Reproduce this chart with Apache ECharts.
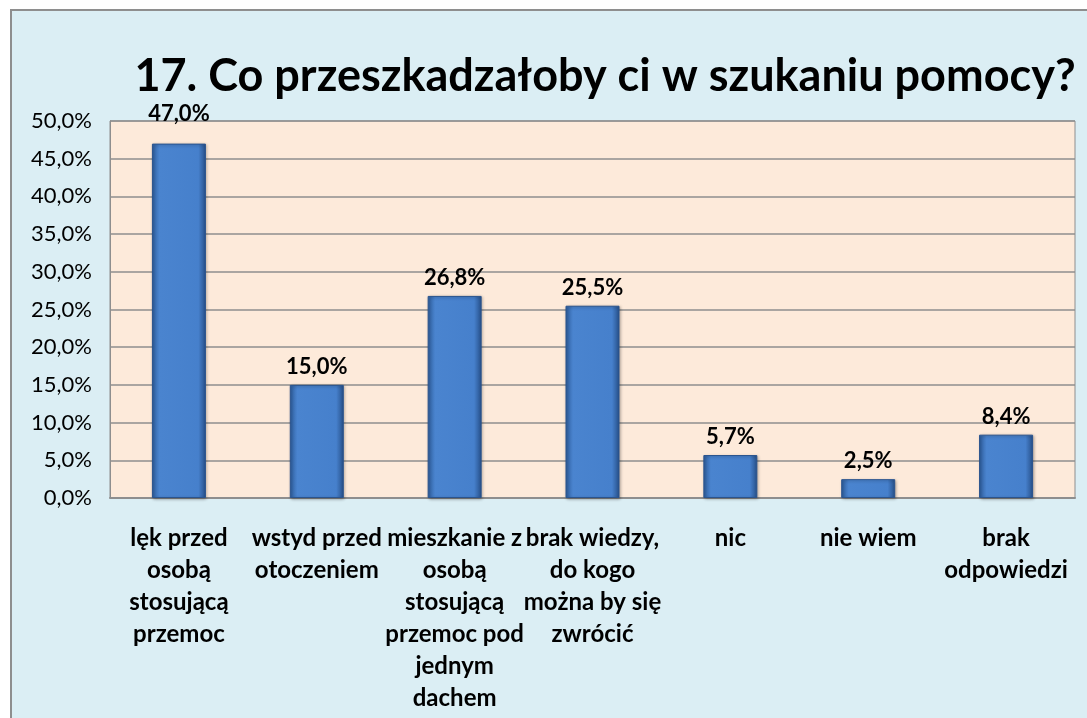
<!DOCTYPE html>
<html>
<head>
<meta charset="utf-8">
<script src="https://cdn.jsdelivr.net/npm/echarts@6/dist/echarts.min.js"></script>
<style>
  html, body { margin: 0; padding: 0; background: #fff; }
  #chart_id { width: 1087px; height: 718px; }
</style>
</head>
<body>
<div id="chart_id"></div>
<script>
// dane z wykresu
const categories = [
  'lęk przed\nosobą\nstosującą\nprzemoc',
  'wstyd przed\notoczeniem',
  'mieszkanie z\nosobą\nstosującą\nprzemoc pod\njednym\ndachem',
  'brak wiedzy,\ndo kogo\nmożna by się\nzwrócić',
  'nic',
  'nie wiem',
  'brak\nodpowiedzi',
];
const values = [47.0, 15.0, 26.8, 25.5, 5.7, 2.5, 8.4];
const titleText = '17. Co przeszkadzałoby ci w szukaniu pomocy?';

const pct = (v) => v.toFixed(1).replace('.', ',') + '%';

const myChart = echarts.init(document.getElementById('chart_id'));
const option = {
  animation: false,
  backgroundColor: '#fff',
  graphic: [
    {
      type: 'rect',
      z: -10,
      shape: { x: 11, y: 10, width: 1100, height: 730 },
      style: { fill: '#DBEEF4', stroke: '#8E8E8E', lineWidth: 2 },
    },
  ],
  title: {
    text: titleText,
    left: 600,
    top: 49,
    textAlign: 'center',
    textStyle: {
      fontFamily: 'Lato',
      fontWeight: 'bold',
      fontSize: 45,
      color: '#000',
    },
  },
  grid: {
    left: 110,
    right: 12,
    top: 121,
    bottom: 220,
    show: true,
    backgroundColor: '#FDEADA',
    borderColor: '#8E8E8E',
    borderWidth: 1,
  },
  xAxis: {
    type: 'category',
    data: categories,
    axisLine: { lineStyle: { color: '#8E8E8E', width: 2 } },
    axisTick: { show: false },
    axisLabel: {
      interval: 0,
      margin: 24,
      color: '#000',
      fontFamily: 'Lato',
      fontWeight: 'bold',
      fontSize: 24,
      lineHeight: 32,
    },
  },
  yAxis: {
    type: 'value',
    min: 0,
    max: 50,
    interval: 5,
    axisLine: { show: true, lineStyle: { color: '#8E8E8E' } },
    axisTick: { show: false },
    axisLabel: {
      margin: 18,
      color: '#000',
      fontFamily: 'Lato',
      fontSize: 22,
      formatter: (v) => pct(v),
    },
    splitLine: { lineStyle: { color: '#8E8E8E', width: 1.5 } },
  },
  series: [
    {
      type: 'bar',
      // etykieta najwyższego słupka stoi wyżej, nad obszarem wykresu
      data: values.map((v, i) => (i === 0 ? { value: v, label: { offset: [0, -12] } } : v)),
      barWidth: 54,
      itemStyle: {
        color: {
          type: 'linear',
          x: 0, y: 0, x2: 1, y2: 0,
          colorStops: [
            { offset: 0, color: '#2E5E9E' },
            { offset: 0.14, color: '#4A84CF' },
            { offset: 0.86, color: '#4680CC' },
            { offset: 1, color: '#264F88' },
          ],
        },
        borderColor: '#2A548E',
        borderWidth: 1,
        shadowColor: 'rgba(0,0,0,0.3)',
        shadowBlur: 3,
        shadowOffsetX: 1,
        shadowOffsetY: 1,
      },
      label: {
        show: true,
        position: 'top',
        distance: 7,
        color: '#000',
        fontFamily: 'Lato',
        fontWeight: 'bold',
        fontSize: 22,
        formatter: (p) => pct(p.value),
      },
    },
  ],
};
myChart.setOption(option);
window.onresize = myChart.resize;
</script>
</body>
</html>
